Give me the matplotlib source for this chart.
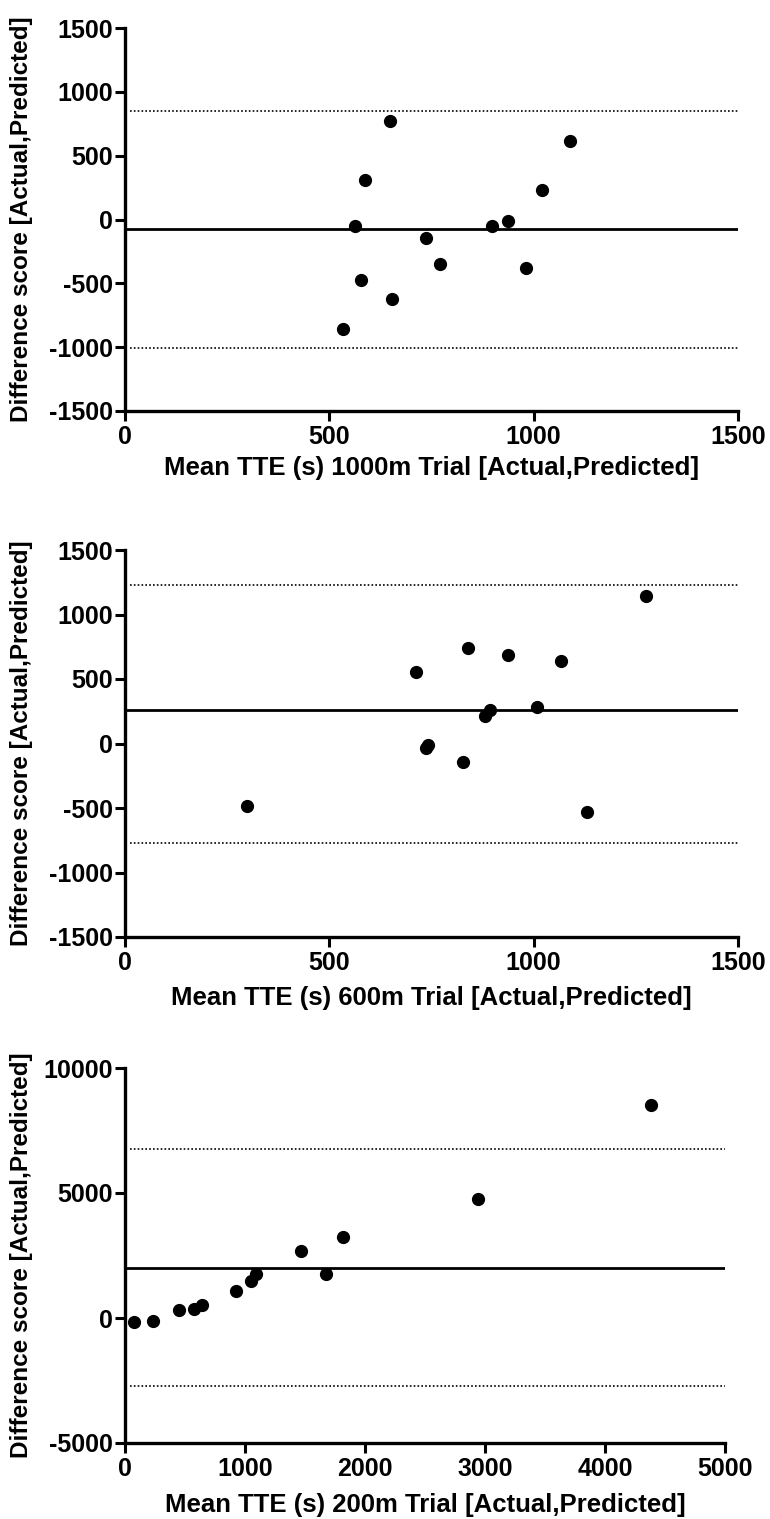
import matplotlib.pyplot as plt

plt.rcParams["font.family"] = ["Liberation Sans", "DejaVu Sans"]
plt.rcParams["font.weight"] = "bold"
plt.rcParams["axes.unicode_minus"] = False

# -------- DATA --------
# 1000m trial
mean_1000 = [648, 588, 1088, 1020, 562, 898, 936, 737, 772, 982, 578, 654, 534]
diff_1000 = [775, 307, 612, 229, -47, -52, -13, -143, -346, -378, -471, -625, -854]
bias_1000 = -78
loa_1000 = [852, -1003]

# 600m trial
mean_600 = [1276, 840, 938, 1066, 712, 1008, 892, 880, 742, 736, 826, 298, 1130]
diff_600 = [1145, 741, 686, 642, 556, 282, 258, 214, -8, -34, -141, -485, -532]
bias_600 = 261
loa_600 = [1226, -769]

# 200m trial
mean_200 = [4383, 2944, 1815, 1464, 1676, 1092, 1047, 924, 642, 572, 454, 237, 74]
diff_200 = [8520, 4747, 3227, 2667, 1747, 1760, 1493, 1080, 507, 373, 333, -133, -173]
bias_200 = 2013
loa_200 = [6760, -2720]

panels = [
    (mean_1000, diff_1000, bias_1000, loa_1000, (0, 1500), [0, 500, 1000, 1500],
     (-1500, 1500), [-1500, -1000, -500, 0, 500, 1000, 1500],
     "Mean TTE (s) 1000m Trial [Actual,Predicted]"),
    (mean_600, diff_600, bias_600, loa_600, (0, 1500), [0, 500, 1000, 1500],
     (-1500, 1500), [-1500, -1000, -500, 0, 500, 1000, 1500],
     "Mean TTE (s) 600m Trial [Actual,Predicted]"),
    (mean_200, diff_200, bias_200, loa_200, (0, 5000), [0, 1000, 2000, 3000, 4000, 5000],
     (-5000, 10000), [-5000, 0, 5000, 10000],
     "Mean TTE (s) 200m Trial [Actual,Predicted]"),
]

# axes boxes in pixels: left, right, top, bottom ; x label centre offset below axis
boxes = [(125, 738, 28, 411, 57), (125, 738, 550, 937, 61), (125, 725, 1068, 1443, 62)]

W, H = 770, 1519
fig = plt.figure(figsize=(W / 100, H / 100), dpi=100)

for (x, y, bias, loa, xlim, xt, ylim, yt, xlabel), (l, r, t, b, off) in zip(panels, boxes):
    ax = fig.add_axes([l / W, 1 - b / H, (r - l) / W, (b - t) / H])
    ax.hlines(bias, xlim[0], xlim[1], color="black", lw=2.0, zorder=2)
    for v in loa:
        ax.hlines(v, xlim[0] + (xlim[1] - xlim[0]) * 0.008, xlim[1],
                  color="black", lw=1.2, linestyles=(0, (1, 1.3)), zorder=2)
    ax.plot(x, y, "o", color="black", ms=8.5, zorder=3)

    ax.set_xlim(xlim)
    ax.set_ylim(ylim)
    ax.set_xticks(xt)
    ax.set_yticks(yt)
    ax.spines["top"].set_visible(False)
    ax.spines["right"].set_visible(False)
    for s in ["left", "bottom"]:
        ax.spines[s].set_linewidth(2.4)
        ax.spines[s].set_clip_on(False)
    ax.tick_params(axis="both", width=2.2, length=7, labelsize=18)
    ax.tick_params(axis="y", pad=1.5)
    ax.tick_params(axis="x", pad=3)
    for lab in ax.get_xticklabels() + ax.get_yticklabels():
        lab.set_fontweight("bold")

    ax.set_xlabel(xlabel, fontsize=18.5, fontweight="bold")
    ax.set_ylabel("Difference score [Actual,Predicted]", fontsize=17.5, fontweight="bold")
    ax.xaxis.set_label_coords(0.5, -off / (b - t))
    ax.xaxis.label.set_va("center")
    ax.yaxis.set_label_coords(-(l - 22) / (r - l), 0.5)
    ax.yaxis.label.set_va("center")

fig.savefig("out.png", dpi=100)
